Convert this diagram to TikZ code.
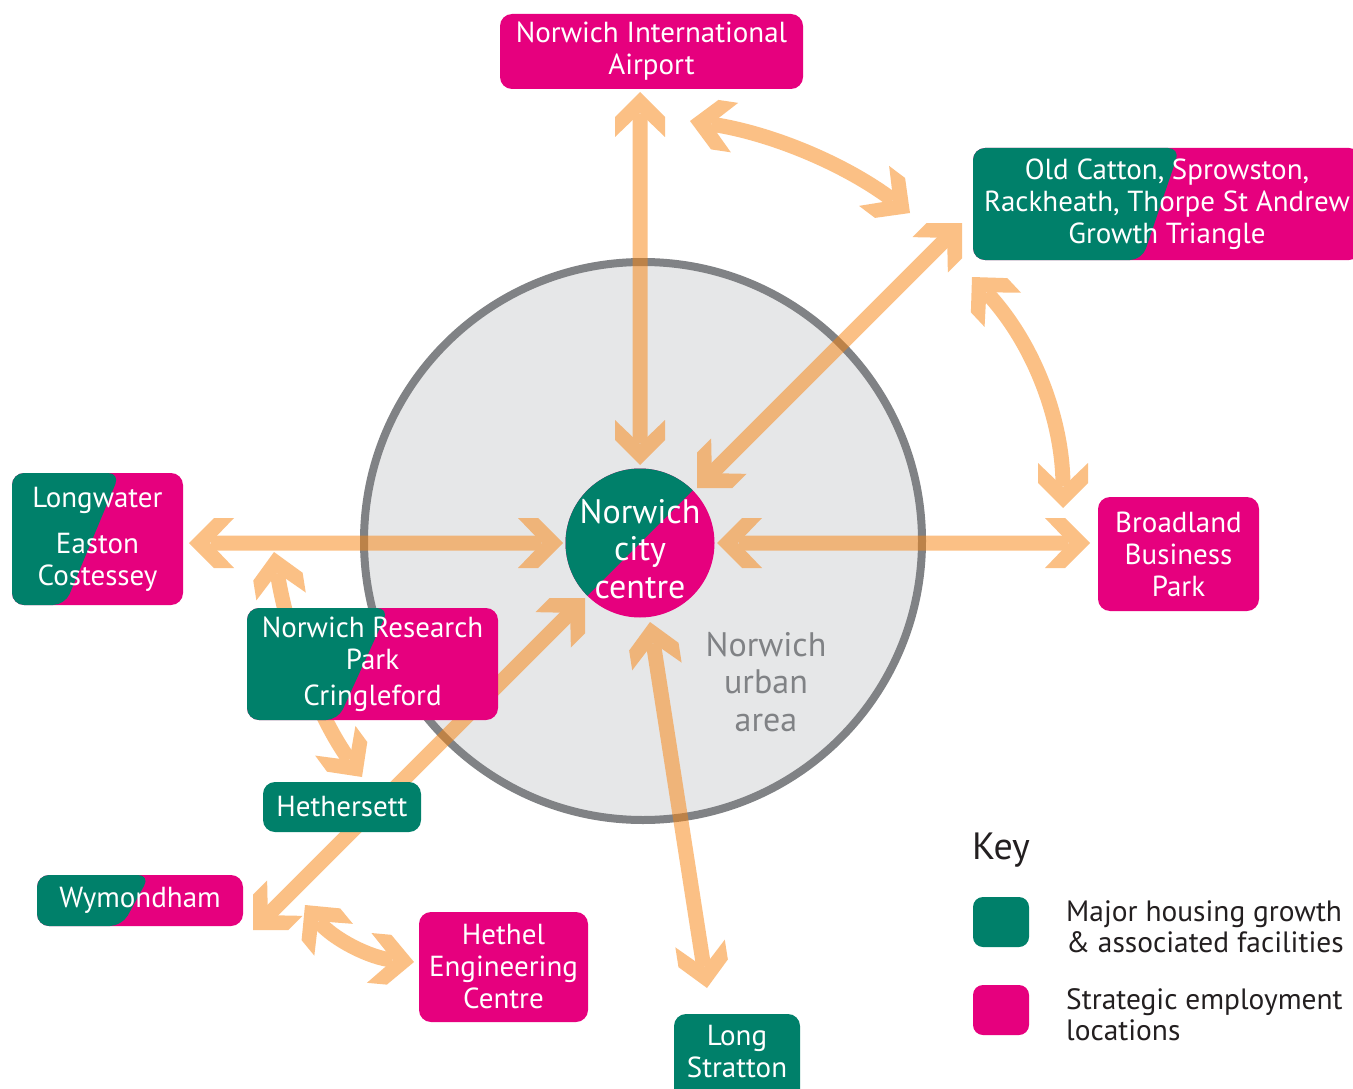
\documentclass[tikz,border=0pt]{standalone}
\usepackage{fontspec}
\setmainfont{PT Sans}
\usetikzlibrary{arrows.meta}
\definecolor{grn}{HTML}{00806A}
\definecolor{mag}{HTML}{E6007E}
\definecolor{arr}{RGB}{249,130,12}
\definecolor{ringfill}{HTML}{E6E7E8}
\definecolor{ringline}{HTML}{808285}
\definecolor{keytext}{HTML}{231F20}

\pgfdeclarearrow{
  name = Chev,
  setup code = {
    \pgfarrowssettipend{0pt}
    \pgfarrowssetlineend{-21.5pt}
    \pgfarrowssetbackend{-45pt}
    \pgfarrowsupperhullpoint{0pt}{0pt}
    \pgfarrowsupperhullpoint{-25pt}{25pt}
    \pgfarrowsupperhullpoint{-45pt}{25pt}
  },
  drawing code = {
    \pgfpathmoveto{\pgfpointorigin}
    \pgfpathlineto{\pgfpoint{-25pt}{25pt}}
    \pgfpathlineto{\pgfpoint{-45pt}{25pt}}
    \pgfpathlineto{\pgfpoint{-21pt}{0pt}}
    \pgfpathlineto{\pgfpoint{-45pt}{-25pt}}
    \pgfpathlineto{\pgfpoint{-25pt}{-25pt}}
    \pgfpathclose
    \pgfusepathqfill
  },
  defaults = {}
}

\newcommand{\boxfont}{\fontsize{29}{32}\selectfont}
\newcommand{\bigfont}{\fontsize{34}{37.5}\selectfont}
\newcommand{\keyfont}{\fontsize{29.4}{31}\selectfont}
\newcommand{\keyhead}{\fontsize{38}{40}\selectfont}

\tikzset{
  arrowline/.style={line width=15pt, draw=arr, {Chev}-{Chev}},
  box/.style={rounded corners=12pt, text=white, align=center, font=\boxfont, inner sep=0pt},
  gbox/.style={box, fill=grn},
  mbox/.style={box, fill=mag},
  split/.style 2 args={box, fill=mag, path picture={
     \fill[grn] (path picture bounding box.north west) -- ([xshift=#1]path picture bounding box.north west)
       -- ([xshift=#2]path picture bounding box.south west) -- (path picture bounding box.south west) -- cycle;}},
  keybox/.style={rounded corners=10pt, minimum width=56pt, minimum height=50pt, inner sep=0pt},
  keylabel/.style={anchor=west, align=left, font=\keyfont, text=keytext, inner sep=0pt}
}

\begin{document}
\begin{tikzpicture}[x=1pt, y=-1pt]
\useasboundingbox (0,0) rectangle (1353,1089);
\fill[white] (0,0) rectangle (1353,1089);

% urban area ring
\node[circle, fill=ringfill, draw=ringline, line width=8pt, minimum size=558pt, inner sep=0pt] (ring) at (643,541) {};
\node[align=center, font=\bigfont, text=ringline, inner sep=0pt] (urban) at (766,682) {Norwich\\urban\\area};

% arrow end points
\coordinate (a1s) at (640,92);   \coordinate (a1e) at (640,465);
\coordinate (a2s) at (690,121);  \coordinate (a2e) at (910,213);
\coordinate (a3s) at (962,223);  \coordinate (a3e) at (697,488);
\coordinate (a4s) at (972,277);  \coordinate (a4e) at (1063,508);
\coordinate (a5s) at (717,543);  \coordinate (a5e) at (1090,543);
\coordinate (a6s) at (189,543);  \coordinate (a6e) at (563,543);
\coordinate (a7s) at (274,552);  \coordinate (a7e) at (362,777);
\coordinate (a8s) at (253,930);  \coordinate (a8e) at (585,598);
\coordinate (a9s) at (305,905);  \coordinate (a9e) at (414,962);
\coordinate (a10s) at (650,622); \coordinate (a10e) at (707,988);

\begin{scope}[transparency group, opacity=0.5]
  \draw[arrowline] (a1s) -- (a1e);
  \draw[arrowline] (a2s) .. controls (771,133) and (845,164) .. (a2e);
  \draw[arrowline] (a3s) -- (a3e);
  \draw[arrowline] (a4s) .. controls (1033,342) and (1063,419) .. (a4e);
  \draw[arrowline] (a5s) -- (a5e);
  \draw[arrowline] (a6s) -- (a6e);
  \draw[arrowline] (a7s) .. controls (288,640) and (320,720) .. (a7e);
  \draw[arrowline] (a8s) -- (a8e);
  \draw[arrowline] (a9s) .. controls (333,939) and (370,958) .. (a9e);
  \draw[arrowline] (a10s) -- (a10e);
\end{scope}

% city centre
\node[circle, minimum size=149pt, inner sep=0pt, fill=mag,
  path picture={\fill[grn] (path picture bounding box.north west) -- (path picture bounding box.north east) -- (path picture bounding box.south west) -- cycle;}]
  (cc) at (640,543) {};
\node[text=white, align=center, font=\bigfont, inner sep=0pt] (cctext) at (640,549) {Norwich\\city\\centre};

% boxes
\node[mbox, minimum width=303pt, minimum height=75pt] (air) at (651.5,51.5) {Norwich International\\Airport};
\node[split={207pt}{169pt}, minimum width=388pt, minimum height=112pt] (oc) at (1167,204) {Old Catton, Sprowston,\\Rackheath, Thorpe St Andrew\\Growth Triangle};
\node[split={108pt}{53pt}, minimum width=171pt, minimum height=132pt] (lw) at (97.5,539) {Longwater\\[14pt]Easton\\Costessey};
\node[mbox, minimum width=161pt, minimum height=114pt] (bb) at (1178.5,554) {Broadland\\Business\\Park};
\node[split={142pt}{91pt}, minimum width=251pt, minimum height=112pt] (nrp) at (372.5,664) {Norwich Research\\Park\\[4pt]Cringleford};
\node[gbox, minimum width=158pt, minimum height=50pt] (heth) at (342,807) {Hethersett};
\node[split={113pt}{85pt}, minimum width=206pt, minimum height=51pt] (wym) at (140,900.5) {Wymondham};
\node[mbox, minimum width=169pt, minimum height=110pt] (hethel) at (503.5,967) {Hethel\\Engineering\\Centre};
\node[gbox, minimum width=126pt, minimum height=96pt] (lsbox) at (737,1062) {};
\node[text=white, align=center, font=\boxfont, inner sep=0pt] (ls) at (737,1052) {Long\\Stratton};

% key
\node[anchor=west, font=\keyhead, text=keytext, inner sep=0pt] (key) at (972,850) {Key};
\node[keybox, fill=grn] (k1) at (1001,922) {};
\node[keybox, fill=mag] (k2) at (1001,1010) {};
\node[keylabel] (k1t) at (1066,926.5) {Major housing growth\\\& associated facilities};
\node[keylabel] (k2t) at (1066,1014.5) {Strategic employment\\locations};
\end{tikzpicture}
\end{document}
